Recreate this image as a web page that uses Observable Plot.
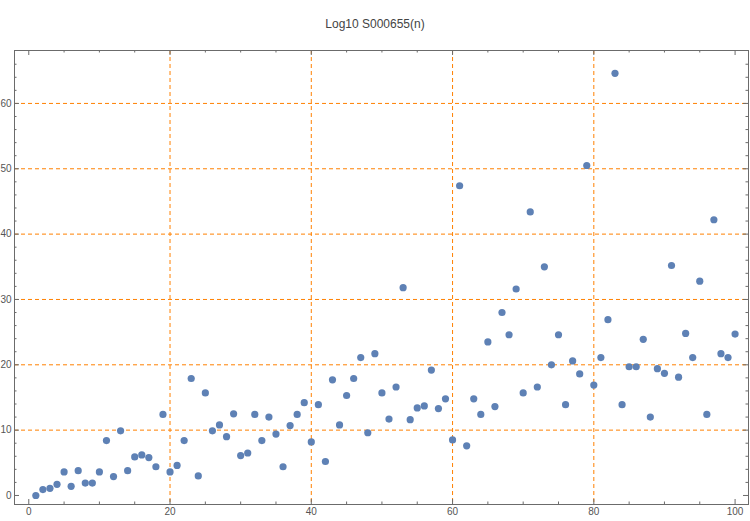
<!DOCTYPE html>
<html>
<head>
<meta charset="utf-8">
<script src="https://cdn.jsdelivr.net/npm/d3@7"></script>
<script src="https://cdn.jsdelivr.net/npm/@observablehq/plot@0.6"></script>
<style>
  html, body { margin: 0; padding: 0; background: #fff; }
  #title { width: 750px; height: 40px; box-sizing: border-box; padding-top: 17px; line-height: 14px;
           text-align: center; font: 12px "Liberation Sans", Arial, sans-serif; color: #444; }
  #chart svg { display: block; }
</style>
</head>
<body>
<div id="title">Log10 S000655(n)</div>
<div id="chart"></div>
<script>
const titleText = "Log10 S000655(n)";
const nValues = d3.range(1, 101);
const logValues = [
  0.0, 0.9, 1.1, 1.7, 3.6, 1.4, 3.8, 1.9, 1.9, 3.6,
  8.4, 2.9, 9.9, 3.8, 5.9, 6.2, 5.8, 4.4, 12.4, 3.6,
  4.6, 8.4, 17.9, 3.0, 15.7, 9.9, 10.8, 9.0, 12.5, 6.1,
  6.5, 12.4, 8.4, 12.0, 9.4, 4.4, 10.7, 12.4, 14.2, 8.2,
  13.9, 5.2, 17.7, 10.8, 15.3, 17.9, 21.1, 9.6, 21.7, 15.7,
  11.7, 16.6, 31.8, 11.6, 13.4, 13.7, 19.2, 13.3, 14.8, 8.5,
  47.4, 7.6, 14.8, 12.4, 23.5, 13.6, 28.0, 24.6, 31.6, 15.7,
  43.4, 16.6, 35.0, 20.0, 24.6, 13.9, 20.6, 18.6, 50.5, 16.9,
  21.1, 26.9, 64.6, 13.9, 19.7, 19.7, 23.9, 12.0, 19.4, 18.7,
  35.2, 18.1, 24.8, 21.1, 32.8, 12.4, 42.2, 21.7, 21.1, 24.7
];
const xTicks = [0, 20, 40, 60, 80, 100];
const xMinorTicks = [5, 10, 15, 25, 30, 35, 45, 50, 55, 65, 70, 75, 85, 90, 95];
const yTicks = [0, 10, 20, 30, 40, 50, 60];
const yMinorTicks = [2, 4, 6, 8, 12, 14, 16, 18, 22, 24, 26, 28, 32, 34, 36, 38, 42, 44, 46, 48, 52, 54, 56, 58, 62, 64, 66];
const xGrid = [20, 40, 60, 80];
const yGrid = [10, 20, 30, 40, 50, 60];

const data = nValues.map((n, i) => ({n, v: logValues[i]}));

const W = 750, H = 481, mL = 14, mR = 2, mT = 10, mB = 17;
const pw = W - mL - mR, ph = H - mT - mB;
const major = 5, minor = 2.5;
const frameColor = "#6b6b6b";
const orange = "#FF8000";
const dash = "4,3";

const chart = Plot.plot({
  width: W, height: H,
  marginLeft: mL, marginRight: mR, marginTop: mT, marginBottom: mB,
  style: {fontFamily: "'Liberation Sans', Arial, sans-serif", fontSize: "10px", color: "#555", background: "#fff"},
  x: {domain: [-2.02, 101.9]},
  y: {domain: [-1.38, 68.1]},
  marks: [
    Plot.gridX(xGrid, {stroke: orange, strokeOpacity: 1, strokeWidth: 1, strokeDasharray: dash}),
    Plot.gridY(yGrid, {stroke: orange, strokeOpacity: 1, strokeWidth: 1, strokeDasharray: dash}),
    Plot.frame({stroke: frameColor, strokeWidth: 1}),
    // bottom ticks
    Plot.tickX(xTicks, {x: d => d, insetTop: ph - major, stroke: frameColor}),
    Plot.tickX(xMinorTicks, {x: d => d, insetTop: ph - minor, stroke: frameColor}),
    // top ticks
    Plot.tickX(xTicks, {x: d => d, insetBottom: ph - major, stroke: frameColor}),
    Plot.tickX(xMinorTicks, {x: d => d, insetBottom: ph - minor, stroke: frameColor}),
    // left ticks
    Plot.tickY(yTicks, {y: d => d, insetRight: pw - major, stroke: frameColor}),
    Plot.tickY(yMinorTicks, {y: d => d, insetRight: pw - minor, stroke: frameColor}),
    // right ticks
    Plot.tickY(yTicks, {y: d => d, insetLeft: pw - major, stroke: frameColor}),
    Plot.tickY(yMinorTicks, {y: d => d, insetLeft: pw - minor, stroke: frameColor}),
    Plot.axisX({anchor: "bottom", ticks: xTicks, tickSize: 0, tickPadding: 3, label: null, fill: "#555"}),
    Plot.axisY({anchor: "left", ticks: yTicks, tickSize: 0, tickPadding: 3, label: null, fill: "#555"}),
    Plot.dot(data, {x: "n", y: "v", r: 3.6, fill: "#5E81B5", stroke: "none"})
  ]
});
document.getElementById("chart").appendChild(chart);
</script>
</body>
</html>
